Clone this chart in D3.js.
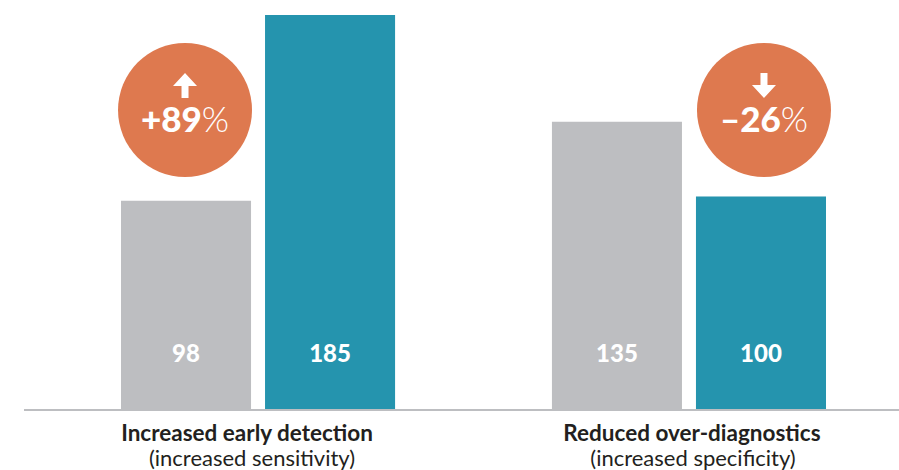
<!DOCTYPE html>
<html>
<head>
<meta charset="utf-8">
<script src="https://cdn.jsdelivr.net/npm/d3@7"></script>
<style>
  html, body { margin: 0; padding: 0; background: #ffffff; }
  svg { display: block; }
  text { font-family: Lato, "Open Sans", sans-serif; }
</style>
</head>
<body>
<svg id="chart" width="899" height="470"></svg>
<script>
// ---- data ----
const categories = ["Increased early detection", "Reduced over-diagnostics"];
const subtitles = ["(increased sensitivity)", "(increased specificity)"];
const seriesNames = ["Before", "After"];
const beforeValues = [98, 135];
const afterValues = [185, 100];
const changeLabels = ["+89", "\u201326"];
const changeDirections = ["up", "down"];
const changeOverSeries = ["Before", "After"];

// ---- layout ----
const W = 899, H = 470;
const baseY = 410;
const colors = { Before: "#bdbec1", After: "#2594ae" };
const orange = "#de794f";
const textDark = "#231f20";
const titleDx = [-11, 3];
const subDx = [-6, 4];

const svg = d3.select("#chart");

const x0 = d3.scaleBand().domain(categories).range([121, 826]).paddingInner(0.364).paddingOuter(0);
const x1 = d3.scaleBand().domain(seriesNames).range([0, x0.bandwidth()]).paddingInner(0.0972).paddingOuter(0);
const y = d3.scaleLinear().domain([0, 185]).range([baseY, 15]);

const rows = categories.map((c, i) => ({
  i, cat: c, sub: subtitles[i],
  vals: [{ s: "Before", v: beforeValues[i] }, { s: "After", v: afterValues[i] }],
  change: changeLabels[i], dir: changeDirections[i], over: changeOverSeries[i]
}));

const g = svg.selectAll("g.grp").data(rows).join("g")
  .attr("class", "grp")
  .attr("transform", d => `translate(${x0(d.cat)},0)`);

g.selectAll("rect").data(d => d.vals).join("rect")
  .attr("x", d => x1(d.s))
  .attr("y", d => y(d.v))
  .attr("width", x1.bandwidth())
  .attr("height", d => baseY - y(d.v))
  .attr("fill", d => colors[d.s]);

g.selectAll("text.val").data(d => d.vals).join("text")
  .attr("class", "val")
  .attr("x", d => x1(d.s) + x1.bandwidth() / 2)
  .attr("y", 362)
  .attr("text-anchor", "middle")
  .attr("fill", "#ffffff")
  .attr("font-weight", 900)
  .attr("font-size", 24)
  .text(d => d.v);

// baseline
svg.append("line")
  .attr("x1", 24).attr("x2", W)
  .attr("y1", baseY).attr("y2", baseY)
  .attr("stroke", "#bdbec1").attr("stroke-width", 2);

// category labels
g.append("text")
  .attr("x", d => x0.bandwidth() / 2 + titleDx[d.i])
  .attr("y", 441)
  .attr("text-anchor", "middle")
  .attr("fill", textDark)
  .attr("font-weight", 700)
  .attr("font-size", 22.5)
  .text(d => d.cat);

g.append("text")
  .attr("x", d => x0.bandwidth() / 2 + subDx[d.i])
  .attr("y", 466)
  .attr("text-anchor", "middle")
  .attr("fill", textDark)
  .attr("font-weight", 400)
  .attr("font-size", 22)
  .text(d => d.sub);

// change badges
const cy = 110, r = 67;
const badge = g.append("g")
  .attr("transform", d => `translate(${x1(d.over) + x1.bandwidth() / 2 + (d.dir === "down" ? 3 : -1)},${cy})`);

badge.append("circle").attr("r", r).attr("fill", orange);

badge.append("path")
  .attr("fill", "#ffffff")
  .attr("d", d => {
    const up = "M0,-37 L12,-24 L3.5,-24 L3.5,-12 L-3.5,-12 L-3.5,-24 L-12,-24 Z";
    const down = "M0,-12 L12,-25 L3.5,-25 L3.5,-37 L-3.5,-37 L-3.5,-25 L-12,-25 Z";
    return d.dir === "up" ? up : down;
  });

const pct = badge.append("text")
  .attr("y", 22)
  .attr("text-anchor", "middle")
  .attr("fill", "#ffffff")
  .attr("font-size", 35);
pct.append("tspan").attr("font-weight", 900).text(d => d.change);
pct.append("tspan").attr("font-weight", 300).text("%");
</script>
</body>
</html>
